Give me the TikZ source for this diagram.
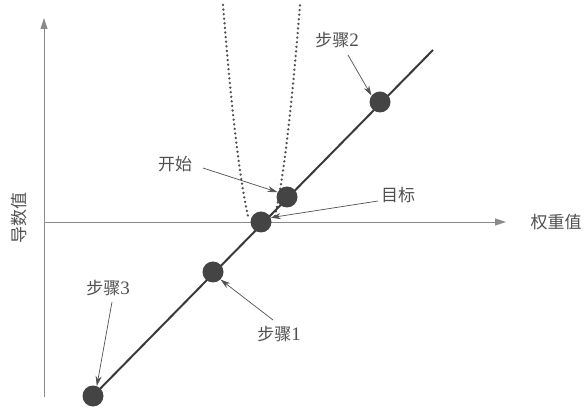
\documentclass[tikz,border=0pt]{standalone}
\usepackage{fontspec}
\newfontfamily\cjk{Noto Sans CJK SC}
\newfontfamily\digf{Liberation Serif}
\usetikzlibrary{arrows.meta}
\definecolor{axisgray}{HTML}{8A8A8A}
\definecolor{txtgray}{HTML}{505050}
\definecolor{dotgray}{HTML}{444444}
\definecolor{linegray}{HTML}{3A3A3A}
\newcommand{\dg}[1]{{\digf\fontsize{19}{20}\selectfont #1}}
\tikzset{
  axisline/.style={draw=axisgray,line width=0.9pt,-{Triangle[length=11pt,width=7pt]}},
  mainline/.style={draw=linegray,line width=2pt},
  ptdot/.style={circle,fill=dotgray,minimum size=21pt,inner sep=0pt},
  lbl/.style={text=txtgray,font=\fontsize{17}{20}\selectfont,inner sep=0pt},
  callout/.style={draw=txtgray,line width=0.7pt,-{Stealth[length=10pt,width=6pt]}},
  parab/.style={draw=txtgray,line width=2.6pt,line cap=round,dash pattern=on 0.01pt off 4.6pt}
}
\begin{document}
\begin{tikzpicture}[x=1pt,y=-1pt]
\useasboundingbox (0,0) rectangle (586,411);
% axes
\coordinate (yb) at (44,397);
\coordinate (yt) at (44,18);
\coordinate (xl) at (44,222);
\coordinate (xr) at (506,222);
\draw[axisline] (yb) -- (yt);
\draw[axisline] (xl) -- (xr);
\node[lbl] (xlab) at (556,222) {\cjk 权重值};
\node[lbl,rotate=90] (ylab) at (19,218) {\cjk 导数值};
% dotted parabola
\draw[parab] plot[domain=-38.5:-13.5,samples=60] ({261.5+\x},{245.5-0.1623*\x*\x});
\draw[parab] plot[domain=13.5:38.5,samples=60] ({261.5+\x},{245.5-0.1623*\x*\x});
% main line
\coordinate (la) at (93,396);
\coordinate (lb) at (433,50);
\draw[mainline] (la) -- (lb);
% points
\node[ptdot] (s3) at (93,396) {};
\node[ptdot] (s1) at (213,272) {};
\node[ptdot] (tg) at (261,222) {};
\node[ptdot] (st) at (287,197) {};
\node[ptdot] (s2) at (380,102) {};
% labels
\node[lbl] (lst) at (175,164) {\cjk 开始};
\node[lbl] (ltg) at (398,195) {\cjk 目标};
\node[lbl] (ls2) at (337,40) {{\cjk 步骤}\dg{2}};
\node[lbl] (ls1) at (279,334) {{\cjk 步骤}\dg{1}};
\node[lbl] (ls3) at (108,288) {{\cjk 步骤}\dg{3}};
% callouts
\coordinate (cst) at (203,168);
\coordinate (ctg) at (378,201);
\coordinate (cs2) at (348,55);
\coordinate (cs1) at (273,320);
\coordinate (cs3) at (112,302);
\draw[callout] (cst) -- (st.153);
\draw[callout] (ctg) -- (tg.24);
\draw[callout] (cs2) -- (s2.143);
\draw[callout] (cs1) -- (s1.-45);
\draw[callout] (cs3) -- (s3.69);
\end{tikzpicture}
\end{document}
